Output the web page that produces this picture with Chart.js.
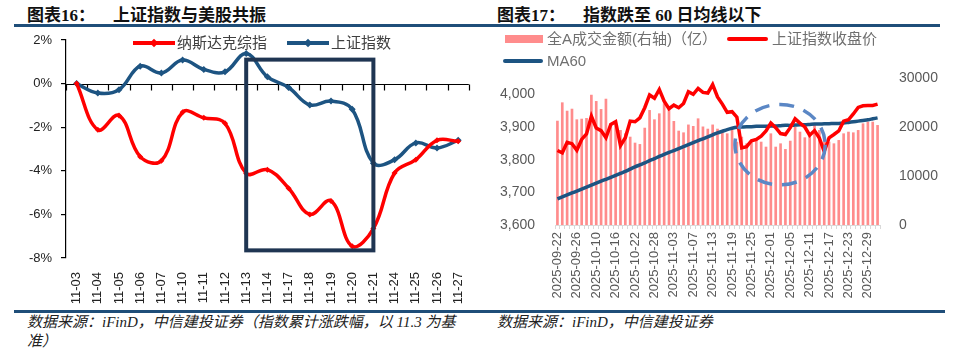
<!DOCTYPE html>
<html>
<head>
<meta charset="utf-8">
<script src="https://cdn.jsdelivr.net/npm/chart.js@4.4.1/dist/chart.umd.min.js"></script>
<style>
  body { margin: 0; width: 960px; height: 360px; background: #fff; position: relative; overflow: hidden;
         font-family: "Liberation Sans", "Noto Sans CJK SC", sans-serif; }
  canvas { position: absolute; top: 0; }
  .title { position: absolute; top: 6px; font-family: "Liberation Serif", "Noto Sans CJK SC", serif;
           font-weight: bold; font-size: 17px; line-height: 20px; color: #111; white-space: nowrap; }
  .title span { margin-left: 18px; }
  .rule { position: absolute; height: 3px; background: #1f4e79; }
  .src { position: absolute; font-family: "Liberation Serif", "Noto Sans CJK SC", serif; font-style: italic;
         font-size: 15px; line-height: 19px; color: #222; white-space: nowrap; }
  .lg { position: absolute; font-size: 15px; line-height: 18px; white-space: nowrap; }
  .sw { position: absolute; }
  .dia { position: absolute; width: 6px; height: 6px; transform: rotate(45deg); }
</style>
</head>
<body>

<div class="title" style="left:27px">图表16：<span>上证指数与美股共振</span></div>
<div class="title" style="left:497px">图表17：<span>指数跌至 60 日均线以下</span></div>
<div class="rule" style="left:14px; width:926px; top:24px"></div>
<div class="rule" style="left:14px; width:931px; top:310px"></div>

<canvas id="left" width="480" height="310" style="left:0"></canvas>
<canvas id="right" width="480" height="310" style="left:480px"></canvas>

<!-- legend, left chart -->
<div class="sw" style="left:133px; top:41px; width:42px; height:4px; background:#ff0000"></div>
<div class="dia" style="left:151px; top:40px; background:#ff0000"></div>
<div class="lg" style="left:177px; top:34px; color:#404040">纳斯达克综指</div>
<div class="sw" style="left:287px; top:41px; width:42px; height:4px; background:#1d5482"></div>
<div class="dia" style="left:305px; top:40px; background:#1d5482"></div>
<div class="lg" style="left:331px; top:34px; color:#404040">上证指数</div>

<!-- legend, right chart -->
<div class="sw" style="left:505px; top:35px; width:38px; height:8px; background:#ff8c8c"></div>
<div class="lg" style="left:547px; top:30px; color:#707070">全A成交金额(右轴)（亿）</div>
<div class="sw" style="left:727px; top:37px; width:41px; height:4px; background:#ff0000; border-radius:2px"></div>
<div class="lg" style="left:772px; top:30px; color:#707070">上证指数收盘价</div>
<div class="sw" style="left:503px; top:59px; width:40px; height:4px; background:#1d5482; border-radius:2px"></div>
<div class="lg" style="left:547px; top:52px; color:#707070">MA60</div>

<div class="src" style="left:27px; top:313px">数据来源：iFinD，中信建投证券（指数累计涨跌幅，以 11.3 为基<br>准）</div>
<div class="src" style="left:497px; top:313px">数据来源：iFinD，中信建投证券</div>

<script>
// ---- left chart: cumulative change since 11-03 (%)
const days = ['11-03','11-04','11-05','11-06','11-07','11-10','11-11','11-12','11-13','11-14',
              '11-17','11-18','11-19','11-20','11-21','11-24','11-25','11-26','11-27']
const nasdaq = [0, -2.12, -1.46, -3.35, -3.54, -1.31, -1.57, -1.82, -4.12, -3.95,
                -4.8, -6.0, -5.38, -7.46, -6.65, -4.1, -3.49, -2.6, -2.65]
const shIndex = [0, -0.43, -0.28, 0.8, 0.49, 1.08, 0.65, 0.54, 1.38, 0.31,
                 -0.18, -0.98, -0.8, -1.18, -3.65, -3.49, -2.72, -2.95, -2.6]
const pctTicks = [-8, -6, -4, -2, 0, 2]
// highlighted window (data units)
const boxFrom = '11-13', boxTo = '11-21', boxTop = 1.1, boxBottom = -7.65

// ---- right chart: daily turnover, close, MA60
const dates = [
  '2025-09-22','2025-09-23','2025-09-24','2025-09-25','2025-09-26','2025-09-29','2025-09-30',
  '2025-10-09','2025-10-10','2025-10-13','2025-10-14','2025-10-15','2025-10-16','2025-10-17',
  '2025-10-20','2025-10-21','2025-10-22','2025-10-23','2025-10-24','2025-10-27','2025-10-28','2025-10-29','2025-10-30','2025-10-31',
  '2025-11-03','2025-11-04','2025-11-05','2025-11-06','2025-11-07','2025-11-10','2025-11-11','2025-11-12','2025-11-13','2025-11-14',
  '2025-11-17','2025-11-18','2025-11-19','2025-11-20','2025-11-21','2025-11-24','2025-11-25','2025-11-26','2025-11-27','2025-11-28',
  '2025-12-01','2025-12-02','2025-12-03','2025-12-04','2025-12-05','2025-12-08','2025-12-09','2025-12-10','2025-12-11','2025-12-12',
  '2025-12-15','2025-12-16','2025-12-17','2025-12-18','2025-12-19','2025-12-22','2025-12-23','2025-12-24','2025-12-25','2025-12-26',
  '2025-12-29','2025-12-30','2025-12-31']
const turnover = [
  21280,25030,23320,23730,21560,21690,21830,
  26580,25300,23660,25770,20740,21080,19380,
  18700,18020,16800,16520,19850,23460,21560,22780,24820,23500,
  21220,19250,18900,20500,20200,21760,20100,19650,20500,19650,
  19380,18700,19380,17000,18020,16660,17340,17340,17000,15980,
  18700,15980,16660,15500,17200,20060,19040,17890,18360,20400,
  19380,17000,17000,16660,17340,18700,19040,18900,19380,20740,
  21080,21080,20400]
const closes = [
  3828,3821,3853,3849,3829,3862,3879,
  3933,3897,3889,3867,3908,3916,3843,
  3867,3918,3916,3928,3959,3998,3988,4015,3979,3956,
  3967,3959,3972,4008,4000,4018,4006,4004,4030,3992,
  3970,3945,3947,3930,3836,3840,3858,3862,3872,3888,
  3912,3898,3880,3877,3898,3925,3912,3900,3875,3889,
  3866,3825,3867,3877,3888,3918,3922,3940,3960,3965,
  3966,3966,3970]
const ma60 = [
  3680,3686,3692,3698,3704,3710,3716,
  3722,3728,3734,3740,3746,3752,3758,
  3764,3771,3778,3784,3790,3797,3803,3810,3816,3822,
  3828,3834,3840,3846,3852,3858,3864,3870,3876,3882,
  3887,3892,3896,3899,3900,3901,3901,3902,3902,3902,
  3903,3903,3904,3905,3905,3906,3907,3907,3908,3909,
  3909,3910,3910,3911,3911,3912,3914,3916,3918,3920,
  3922,3925,3928]
const labelEvery = 4
// dashed ring (data units): centre index / value, radii in categories / points
const ring = { x: 45.9, y: 3846, rx: 9.3, ry: 123 }

const FONT = '"Liberation Sans", "Noto Sans CJK SC", sans-serif'

// 0% axis line with tick marks between categories
const zeroAxis = {
  id: 'zeroAxis',
  beforeDatasetsDraw(chart) {
    const { ctx, chartArea: a, scales: { x, y } } = chart
    const y0 = Math.round(y.getPixelForValue(0)) + 0.5
    ctx.save()
    ctx.strokeStyle = '#000'
    ctx.lineWidth = 1.2
    ctx.beginPath()
    ctx.moveTo(a.left, y0); ctx.lineTo(a.right, y0)
    for (let i = 0; i <= days.length; i++) {
      const px = Math.round(x.getPixelForValue(i - 0.5)) + 0.5
      ctx.moveTo(px, y0); ctx.lineTo(px, y0 + 6)
    }
    ctx.stroke()
    ctx.restore()
  }
}

const windowBox = {
  id: 'windowBox',
  afterDatasetsDraw(chart) {
    const { ctx, scales: { x, y } } = chart
    const x1 = x.getPixelForValue(days.indexOf(boxFrom))
    const x2 = x.getPixelForValue(days.indexOf(boxTo))
    const y1 = y.getPixelForValue(boxTop)
    const y2 = y.getPixelForValue(boxBottom)
    ctx.save()
    ctx.strokeStyle = '#1f3552'
    ctx.lineWidth = 4
    ctx.strokeRect(x1, y1, x2 - x1, y2 - y1)
    ctx.restore()
  }
}

const dashedRing = {
  id: 'dashedRing',
  afterDatasetsDraw(chart) {
    const { ctx, scales: { x, yL } } = chart
    const cx = x.getPixelForValue(ring.x)
    const cy = yL.getPixelForValue(ring.y)
    const rx = x.getPixelForValue(ring.x + ring.rx) - cx
    const ry = cy - yL.getPixelForValue(ring.y + ring.ry)
    ctx.save()
    ctx.strokeStyle = '#5b87c5'
    ctx.lineWidth = 3.5
    ctx.setLineDash([15, 10])
    ctx.beginPath()
    ctx.ellipse(cx, cy, rx, ry, 0, 0, Math.PI * 2)
    ctx.stroke()
    ctx.restore()
  }
}

new Chart(document.getElementById('left'), {
  type: 'line',
  data: {
    labels: days,
    datasets: [
      {
        label: '纳斯达克综指',
        data: nasdaq,
        borderColor: '#ff0000',
        backgroundColor: '#ff0000',
        borderWidth: 3.5,
        tension: 0.4,
        pointStyle: 'rectRot',
        pointRadius: 3,
        pointBorderWidth: 0,
      },
      {
        label: '上证指数',
        data: shIndex,
        borderColor: '#1d5482',
        backgroundColor: '#1d5482',
        borderWidth: 3.5,
        tension: 0.4,
        pointStyle: 'rectRot',
        pointRadius: 3.5,
        pointBorderWidth: 0,
      }
    ]
  },
  options: {
    responsive: false,
    animation: false,
    layout: { padding: { top: 40, right: 8, left: 0, bottom: 0 } },
    plugins: { legend: { display: false }, tooltip: { enabled: false } },
    scales: {
      x: {
        offset: true,
        afterFit: s => { s.height = 52 },
        border: { display: false },
        grid: { display: false },
        ticks: {
          autoSkip: false, minRotation: 90, maxRotation: 90, padding: 6,
          color: '#222', font: { family: FONT, size: 13 }
        }
      },
      y: {
        min: -8, max: 2,
        afterFit: s => { s.width = 66 },
        afterBuildTicks: s => { s.ticks = pctTicks.map(v => ({ value: v })) },
        border: { color: '#000', width: 1.2 },
        grid: { drawOnChartArea: false, drawTicks: true, tickLength: 5, color: '#000', lineWidth: 1.2 },
        ticks: {
          padding: 9, color: '#222', font: { family: FONT, size: 13 },
          callback: v => v + '%'
        }
      }
    }
  },
  plugins: [zeroAxis, windowBox]
})

new Chart(document.getElementById('right'), {
  data: {
    labels: dates,
    datasets: [
      {
        type: 'line',
        label: '上证指数收盘价',
        data: closes,
        yAxisID: 'yL',
        borderColor: '#ff0000',
        borderWidth: 3.5,
        pointRadius: 0,
        tension: 0,
        order: 1,
      },
      {
        type: 'line',
        label: 'MA60',
        data: ma60,
        yAxisID: 'yL',
        borderColor: '#1d5482',
        borderWidth: 3.5,
        pointRadius: 0,
        tension: 0.3,
        order: 2,
      },
      {
        type: 'bar',
        label: '全A成交金额(右轴)（亿）',
        data: turnover,
        yAxisID: 'yR',
        backgroundColor: '#ff8c8c',
        barPercentage: 0.55,
        categoryPercentage: 1,
        order: 3,
      }
    ]
  },
  options: {
    responsive: false,
    animation: false,
    layout: { padding: { top: 78, right: 0, left: 0, bottom: 0 } },
    plugins: { legend: { display: false }, tooltip: { enabled: false } },
    scales: {
      x: {
        afterFit: s => { s.height = 85 },
        border: { color: '#d9d9d9', width: 1 },
        grid: { drawOnChartArea: false, drawTicks: true, tickLength: 4, color: '#d9d9d9' },
        ticks: {
          autoSkip: false, minRotation: 90, maxRotation: 90, padding: 3,
          color: '#595959', font: { family: FONT, size: 13 },
          callback: function (v, i) { return i % labelEvery === 0 ? this.getLabelForValue(v) : '' }
        }
      },
      yL: {
        position: 'left',
        min: 3600, max: 4050,
        afterFit: s => { s.width = 75 },
        afterBuildTicks: s => { s.ticks = s.ticks.filter(t => t.value % 100 === 0) },
        border: { display: false },
        grid: { display: false },
        ticks: {
          stepSize: 100, padding: 12, color: '#595959', font: { family: FONT, size: 14 },
          callback: v => v.toLocaleString('en-US')
        }
      },
      yR: {
        position: 'right',
        min: 0, max: 30000,
        afterFit: s => { s.width = 80 },
        border: { display: false },
        grid: { display: false },
        ticks: {
          stepSize: 10000, padding: 11, color: '#595959', font: { family: FONT, size: 14 },
          callback: v => String(v)
        }
      }
    }
  },
  plugins: [dashedRing]
})
</script>
</body>
</html>
